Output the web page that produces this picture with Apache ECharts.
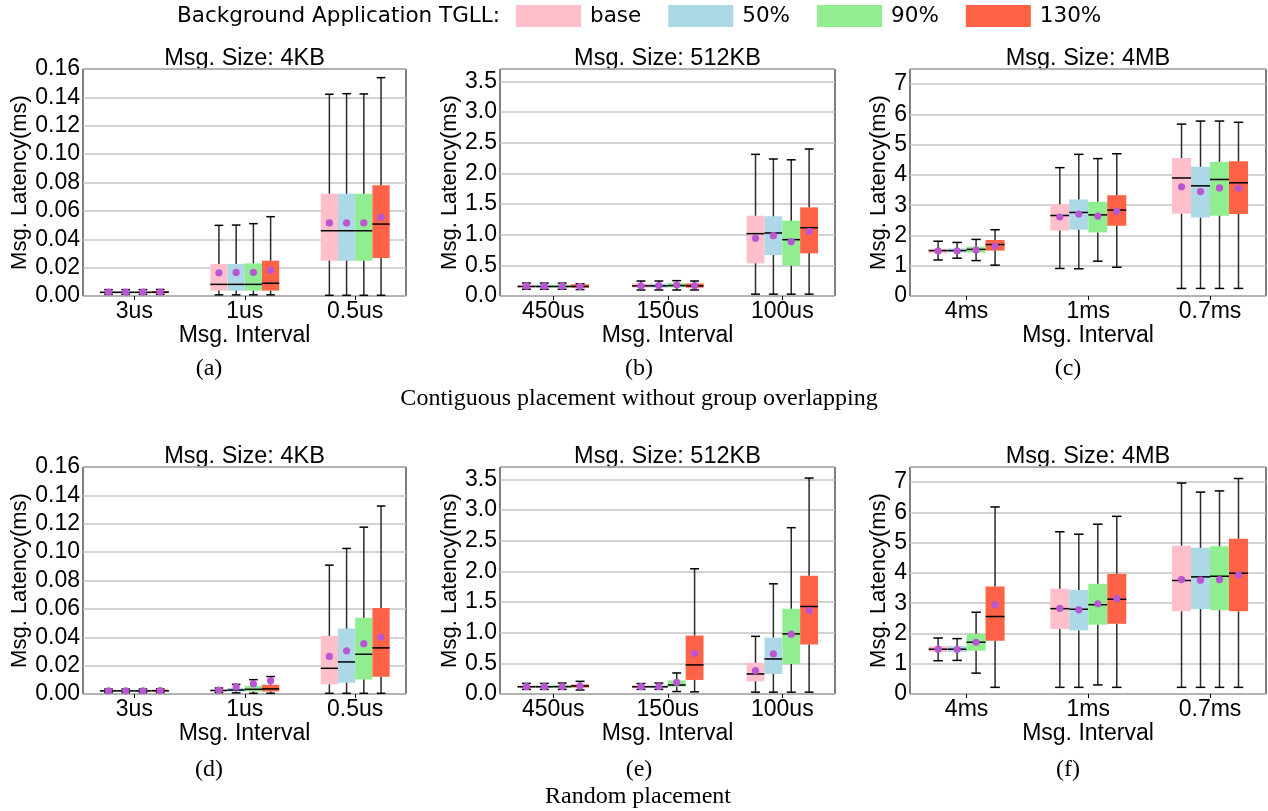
<!DOCTYPE html>
<html>
<head>
<meta charset="utf-8">
<script src="https://cdn.jsdelivr.net/npm/echarts@6/dist/echarts.min.js"></script>
<style>
  html, body { margin: 0; padding: 0; background: #fff; }
  #chart { width: 1268px; height: 811px; }
</style>
</head>
<body>
<div id="chart"></div>
<script>
// =====================
// Data
// =====================
const HUES = ["base", "50%", "90%", "130%"]

const CATS_4KB = ["3us", "1us", "0.5us"]
const CATS_512KB = ["450us", "150us", "100us"]
const CATS_4MB = ["4ms", "1ms", "0.7ms"]

// each row: [whisker low, q1, median, q3, whisker high, mean]
// (a) contiguous, 4KB
const A_BASE = [[0.0012, 0.0021, 0.0026, 0.0031, 0.0045, 0.0027], [0.0008, 0.0038, 0.0082, 0.0226, 0.0498, 0.0164], [0.0005, 0.0249, 0.0460, 0.0721, 0.1422, 0.0515]]
const A_50   = [[0.0012, 0.0021, 0.0026, 0.0031, 0.0045, 0.0027], [0.0008, 0.0038, 0.0082, 0.0226, 0.0500, 0.0166], [0.0005, 0.0249, 0.0460, 0.0721, 0.1426, 0.0515]]
const A_90   = [[0.0012, 0.0021, 0.0026, 0.0031, 0.0045, 0.0027], [0.0008, 0.0038, 0.0082, 0.0230, 0.0510, 0.0167], [0.0005, 0.0249, 0.0460, 0.0721, 0.1424, 0.0515]]
const A_130  = [[0.0012, 0.0022, 0.0027, 0.0032, 0.0046, 0.0028], [0.0008, 0.0038, 0.0090, 0.0249, 0.0559, 0.0181], [0.0005, 0.0268, 0.0507, 0.0780, 0.1539, 0.0555]]

// (b) contiguous, 512KB
const B_BASE = [[0.110, 0.135, 0.155, 0.185, 0.210, 0.160], [0.098, 0.135, 0.165, 0.205, 0.244, 0.165], [0.03, 0.533, 1.016, 1.309, 2.309, 0.940]]
const B_50   = [[0.110, 0.135, 0.155, 0.185, 0.210, 0.160], [0.098, 0.135, 0.165, 0.205, 0.244, 0.168], [0.03, 0.668, 1.027, 1.300, 2.233, 0.983]]
const B_90   = [[0.110, 0.135, 0.155, 0.185, 0.210, 0.160], [0.098, 0.140, 0.170, 0.210, 0.250, 0.178], [0.03, 0.494, 0.918, 1.228, 2.220, 0.885]]
const B_130  = [[0.105, 0.135, 0.155, 0.190, 0.200, 0.158], [0.098, 0.135, 0.165, 0.205, 0.244, 0.168], [0.03, 0.695, 1.113, 1.445, 2.396, 1.054]]

// (c) contiguous, 4MB
const C_BASE = [[1.19, 1.41, 1.50, 1.56, 1.81, 1.49], [0.91, 2.16, 2.66, 3.03, 4.24, 2.61], [0.25, 2.72, 3.90, 4.56, 5.68, 3.61]]
const C_50   = [[1.25, 1.44, 1.50, 1.57, 1.77, 1.49], [0.90, 2.19, 2.76, 3.19, 4.68, 2.71], [0.25, 2.59, 3.64, 4.27, 5.78, 3.45]]
const C_90   = [[1.17, 1.43, 1.54, 1.63, 1.87, 1.52], [1.15, 2.10, 2.68, 3.11, 4.54, 2.64], [0.25, 2.65, 3.85, 4.43, 5.78, 3.57]]
const C_130  = [[1.02, 1.50, 1.70, 1.85, 2.19, 1.65], [0.95, 2.32, 2.84, 3.33, 4.70, 2.80], [0.25, 2.71, 3.74, 4.45, 5.74, 3.56]]

// (d) random, 4KB
const D_BASE = [[0.0011, 0.0018, 0.0022, 0.0027, 0.0035, 0.0023], [0.0011, 0.0018, 0.0025, 0.0030, 0.0042, 0.0028], [0.0005, 0.0068, 0.0181, 0.0410, 0.0908, 0.0265]]
const D_50   = [[0.0011, 0.0018, 0.0022, 0.0027, 0.0035, 0.0023], [0.0008, 0.0018, 0.0028, 0.0042, 0.0068, 0.0050], [0.0005, 0.0080, 0.0226, 0.0461, 0.1026, 0.0304]]
const D_90   = [[0.0011, 0.0018, 0.0022, 0.0027, 0.0035, 0.0023], [0.0005, 0.0018, 0.0033, 0.0058, 0.0101, 0.0071], [0.0005, 0.0103, 0.0280, 0.0537, 0.1176, 0.0355]]
const D_130  = [[0.0011, 0.0019, 0.0023, 0.0028, 0.0036, 0.0024], [0.0005, 0.0018, 0.0036, 0.0065, 0.0123, 0.0094], [0.0005, 0.0122, 0.0325, 0.0607, 0.1325, 0.0400]]

// (e) random, 512KB
const E_BASE = [[0.075, 0.095, 0.118, 0.140, 0.173, 0.119], [0.075, 0.095, 0.118, 0.140, 0.170, 0.120], [0.03, 0.206, 0.327, 0.511, 0.940, 0.380]]
const E_50   = [[0.075, 0.095, 0.118, 0.140, 0.173, 0.120], [0.075, 0.095, 0.118, 0.140, 0.178, 0.122], [0.03, 0.327, 0.571, 0.919, 1.796, 0.653]]
const E_90   = [[0.075, 0.095, 0.120, 0.145, 0.178, 0.122], [0.040, 0.119, 0.147, 0.222, 0.343, 0.190], [0.03, 0.490, 0.980, 1.388, 2.711, 0.975]]
const E_130  = [[0.065, 0.105, 0.130, 0.155, 0.206, 0.128], [0.035, 0.229, 0.474, 0.952, 2.041, 0.663], [0.03, 0.805, 1.426, 1.927, 3.520, 1.360]]

// (f) random, 4MB
const F_BASE = [[1.10, 1.39, 1.48, 1.58, 1.85, 1.48], [0.22, 2.15, 2.82, 3.48, 5.36, 2.83], [0.22, 2.73, 3.75, 4.90, 6.97, 3.78]]
const F_50   = [[1.11, 1.39, 1.48, 1.58, 1.83, 1.47], [0.22, 2.10, 2.80, 3.44, 5.28, 2.78], [0.22, 2.81, 3.87, 4.83, 6.67, 3.76]]
const F_90   = [[0.69, 1.43, 1.71, 1.99, 2.70, 1.71], [0.30, 2.29, 2.95, 3.64, 5.61, 2.98], [0.22, 2.77, 3.89, 4.88, 6.71, 3.78]]
const F_130  = [[0.22, 1.76, 2.56, 3.55, 6.18, 2.95], [0.22, 2.32, 3.13, 3.97, 5.87, 3.15], [0.22, 2.73, 3.99, 5.13, 7.12, 3.93]]


// =====================
// Styles / layout
// =====================
const HUE_COLORS = ["#FFC0CB", "#ADD8E6", "#90EE90", "#FF6347"]
const MEAN_COLOR = "#BA55D3"
const WHISKER_COLOR = "#2a2a2a"
const GRID_COLOR = "#c4c4c4"
const SANS = "Liberation Sans"
const LEGEND_FONT = "DejaVu Sans"
const SERIF = "Liberation Serif"
const BOX_W = 0.156      // in category units
const X_MIN = -0.465
const X_MAX = 2.46

const PANELS = [
  { cats: CATS_4KB,   sets: [A_BASE, A_50, A_90, A_130], max: 0.16, step: 0.02, dec: 2, title: "Msg. Size: 4KB",   letter: "(a)" },
  { cats: CATS_512KB, sets: [B_BASE, B_50, B_90, B_130], max: 3.7,  step: 0.5,  dec: 1, title: "Msg. Size: 512KB", letter: "(b)" },
  { cats: CATS_4MB,   sets: [C_BASE, C_50, C_90, C_130], max: 7.5,  step: 1,    dec: 0, title: "Msg. Size: 4MB",   letter: "(c)" },
  { cats: CATS_4KB,   sets: [D_BASE, D_50, D_90, D_130], max: 0.16, step: 0.02, dec: 2, title: "Msg. Size: 4KB",   letter: "(d)" },
  { cats: CATS_512KB, sets: [E_BASE, E_50, E_90, E_130], max: 3.7,  step: 0.5,  dec: 1, title: "Msg. Size: 512KB", letter: "(e)" },
  { cats: CATS_4MB,   sets: [F_BASE, F_50, F_90, F_130], max: 7.5,  step: 1,    dec: 0, title: "Msg. Size: 4MB",   letter: "(f)" }
]

const COL_LEFT = [83, 500, 910]
const COL_WIDTH = [323, 335, 356]
const COL_NAMEGAP = [45, 34, 14]
const ROW_TOP = [69, 467]
const ROW_HEIGHT = 227


// =====================
// Box renderer
// =====================
function boxItem(hue) {
  return function (params, api) {
    const x = api.value(0) + (hue - 1.5) * BOX_W
    const yAt = k => api.coord([x, api.value(k)])[1]
    const left = api.coord([x - BOX_W / 2, 0])[0]
    const right = api.coord([x + BOX_W / 2, 0])[0]
    const cx = (left + right) / 2
    const cap = (right - left) / 4

    const yLo = yAt(1), yQ1 = yAt(2), yMed = yAt(3), yQ3 = yAt(4), yHi = yAt(5), yMean = yAt(6)

    const line = (x1, y1, x2, y2, c) => ({
      type: "line",
      shape: { x1, y1, x2, y2 },
      style: { stroke: c, lineWidth: 1.5 }
    })

    const boxH = Math.max(yQ1 - yQ3, 2)

    return {
      type: "group",
      children: [
        { type: "rect", shape: { x: left, y: (yQ1 + yQ3) / 2 - boxH / 2, width: right - left, height: boxH }, style: { fill: HUE_COLORS[hue] } },
        line(cx, yQ1, cx, yLo, WHISKER_COLOR),
        line(cx, yQ3, cx, yHi, WHISKER_COLOR),
        line(cx - cap, yLo, cx + cap, yLo, "#000"),
        line(cx - cap, yHi, cx + cap, yHi, "#000"),
        line(left, yMed, right, yMed, "#000"),
        { type: "circle", shape: { cx, cy: yMean, r: 3.6 }, style: { fill: MEAN_COLOR } }
      ]
    }
  }
}


// =====================
// Build option
// =====================
const grids = [], xAxes = [], yAxes = [], series = [], texts = []

PANELS.forEach((p, idx) => {
  const col = idx % 3
  const row = Math.floor(idx / 3)
  const left = COL_LEFT[col]
  const top = ROW_TOP[row]
  const width = COL_WIDTH[col]

  grids.push({
    left, top, width, height: ROW_HEIGHT,
    show: true, borderColor: "#000", borderWidth: 1,
    containLabel: false
  })

  xAxes.push({
    gridIndex: idx,
    type: "value",
    min: X_MIN,
    max: X_MAX,
    axisLine: { show: false },
    splitLine: { show: false },
    axisTick: { show: true, customValues: [0, 1, 2], length: 4, lineStyle: { color: "#000" } },
    axisLabel: {
      customValues: [0, 1, 2],
      formatter: v => p.cats[Math.round(v)],
      fontFamily: SANS, fontSize: 23, color: "#000", margin: 4
    },
    name: "Msg. Interval",
    nameLocation: "middle",
    nameGap: 27,
    nameTextStyle: { fontFamily: SANS, fontSize: 23, color: "#000" }
  })

  yAxes.push({
    gridIndex: idx,
    type: "value",
    min: 0,
    max: p.max,
    interval: p.step,
    axisLine: { show: false },
    axisTick: { show: false },
    splitLine: { lineStyle: { color: GRID_COLOR, width: 1.5 } },
    axisLabel: {
      formatter: v => v.toFixed(p.dec),
      showMaxLabel: p.max === 0.16,
      fontFamily: SANS, fontSize: 23, color: "#000", margin: 3
    },
    name: "Msg. Latency(ms)",
    nameLocation: "middle",
    nameGap: COL_NAMEGAP[col],
    nameTextStyle: { fontFamily: SANS, fontSize: 22, color: "#000" }
  })

  p.sets.forEach((rows, h) => {
    series.push({
      name: HUES[h],
      type: "custom",
      xAxisIndex: idx,
      yAxisIndex: idx,
      itemStyle: { color: HUE_COLORS[h] },
      encode: { x: 0, y: [1, 2, 3, 4, 5, 6] },
      renderItem: boxItem(h),
      clip: false,
      data: rows.map((r, i) => [i, ...r])
    })
  })

  // panel title + letter caption
  texts.push({
    type: "text", x: left + width / 2, y: top - 10,
    style: { text: p.title, font: `23.5px "${SANS}"`, fill: "#000", textAlign: "center", textVerticalAlign: "middle" }
  })
  texts.push({
    type: "text", x: [209, 639, 1068][col], y: [369, 769.5][row],
    style: { text: p.letter, font: `24px "${SERIF}"`, fill: "#000", textAlign: "center", textVerticalAlign: "middle" }
  })
})

texts.push({
  type: "text", x: 639, y: 399,
  style: { text: "Contiguous placement without group overlapping", font: `24px "${SERIF}"`, fill: "#000", textAlign: "center", textVerticalAlign: "middle" }
})
texts.push({
  type: "text", x: 638, y: 797,
  style: { text: "Random placement", font: `24px "${SERIF}"`, fill: "#000", textAlign: "center", textVerticalAlign: "middle" }
})
texts.push({
  type: "text", x: 177, y: 16,
  style: { text: "Background Application TGLL:", font: `21.5px "${LEGEND_FONT}"`, fill: "#000", textAlign: "left", textVerticalAlign: "middle" }
})

const chart = echarts.init(document.getElementById("chart"))

chart.setOption({
  animation: false,
  backgroundColor: "#fff",
  legend: {
    data: HUES,
    left: 511,
    top: 0,
    icon: "rect",
    itemWidth: 65,
    itemHeight: 22,
    itemGap: 27,
    textStyle: { fontFamily: LEGEND_FONT, fontSize: 21.5, color: "#000", padding: [0, 0, 0, 4] }
  },
  grid: grids,
  xAxis: xAxes,
  yAxis: yAxes,
  series: series,
  graphic: texts
})
</script>
</body>
</html>
